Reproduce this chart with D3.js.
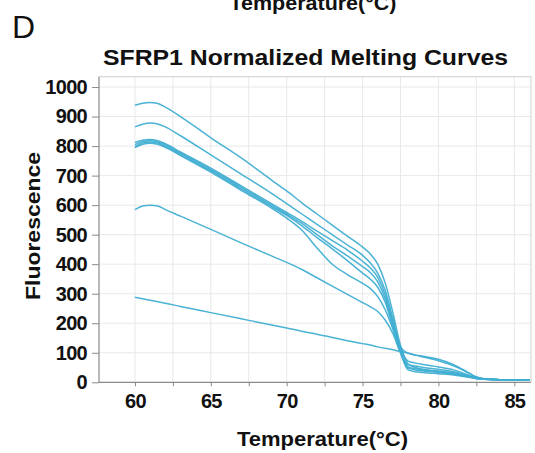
<!DOCTYPE html>
<html><head><meta charset="utf-8">
<script src="https://cdn.jsdelivr.net/npm/d3@7"></script>
<style>body{margin:0;background:#fff}svg{display:block}text{font-family:"Liberation Sans",Arial,sans-serif}</style>
</head><body>
<script>
const temps = [60,60.5,61,61.5,62,63,65,67,69,70,71,72,73,74,75,75.5,76,76.5,77,77.5,78,78.5,79,80,81,82,82.5,83,84,85,86];
const curveA = [938,945,948,944,932,900,828,760,685,648,608,570,532,495,458,435,400,335,235,125,62,50,44,36,28,19,14,11,9,8,8];
const curveB = [865,874,878,875,865,835,770,705,640,605,570,535,500,465,430,405,370,310,215,120,98,92,88,78,60,32,18,12,9,8,8];
const curveE1 = [812,820,822,818,808,780,725,665,605,575,545,512,480,448,410,388,355,295,205,115,72,65,60,52,42,24,15,11,9,8,8];
const curveE2 = [805,815,818,814,804,776,720,660,600,570,538,500,462,428,392,372,340,282,195,105,52,46,42,38,32,21,14,10,9,8,8];
const curveE3 = [798,810,814,810,800,772,716,655,595,565,530,490,452,412,370,350,322,270,185,100,42,36,33,29,25,17,12,10,9,8,8];
const curveE4 = [795,806,810,806,796,768,712,650,590,556,515,455,400,365,335,318,290,245,180,105,48,42,38,33,28,18,13,10,9,8,8];
const curveC = [585,597,600,597,585,563,518,472,428,406,382,354,326,298,270,256,240,210,165,100,60,55,50,44,36,22,14,10,9,8,8];
const curveD = [288,283,278,273,268,257,236,215,194,184,173,163,152,141,131,126,120,115,110,104,99,92,86,73,56,31,18,12,9,8,8];
const seriesList = [curveA, curveB, curveE1, curveE2, curveE3, curveE4, curveC, curveD];
const xTicks = [60,65,70,75,80,85];
const xGrid = [60,62.5,65,67.5,70,72.5,75,77.5,80,82.5,85];
const yTicks = [0,100,200,300,400,500,600,700,800,900,1000];

const W = 535, H = 453;
const L = 99, R = 531, T = 76.7, B = 382.3;
const svg = d3.select("body").append("svg").attr("width", W).attr("height", H);
const x = d3.scaleLinear().domain([57.63, 86.1]).range([L, R]);
const y = d3.scaleLinear().domain([0, 1035]).range([B, T]);

// grid
svg.append("g").selectAll("line").data(xGrid).join("line")
  .attr("x1", d => x(d)).attr("x2", d => x(d)).attr("y1", T).attr("y2", B)
  .attr("stroke", "#e9e9e9").attr("stroke-width", 1);
svg.append("g").selectAll("line").data(yTicks.slice(1)).join("line")
  .attr("x1", L).attr("x2", R).attr("y1", d => y(d)).attr("y2", d => y(d))
  .attr("stroke", "#e9e9e9").attr("stroke-width", 1);
// frame top/right
svg.append("path").attr("d", `M${L},${T}H${R}V${B}`).attr("fill", "none").attr("stroke", "#d8d8d8").attr("stroke-width", 1.2);

// axes
const yAxis = d3.axisLeft(y).tickValues(yTicks).tickSize(7).tickPadding(5).tickFormat(d3.format("d"));
const gy = svg.append("g").attr("transform", `translate(${L},0)`).call(yAxis);
const xAxis = d3.axisBottom(x).tickValues(xGrid).tickSize(4).tickPadding(8).tickFormat(d => xTicks.includes(d) ? d : "");
const gx = svg.append("g").attr("transform", `translate(0,${B})`).call(xAxis);
[gx, gy].forEach(g => {
  g.select(".domain").attr("stroke", "#8a8a8a").attr("stroke-width", 1.2);
  g.selectAll(".tick line").attr("stroke", "#8a8a8a").attr("stroke-width", 1);
  g.selectAll("text").attr("fill", "#111").attr("font-size", 20).attr("font-weight", "bold")
    .attr("font-family", '"Liberation Sans",Arial,sans-serif').attr("letter-spacing", -0.7);
});
gy.select(".domain").attr("d", `M-0,${T}V${B}`);
gx.select(".domain").attr("d", `M${L},0H${R}`);

// curves
const line = d3.line().x((d, i) => x(temps[i])).y(d => y(d)).curve(d3.curveMonotoneX);
svg.append("g").selectAll("path").data(seriesList).join("path")
  .attr("d", line).attr("fill", "none").attr("stroke", "#40aed2").attr("stroke-width", 1.5)
  .attr("stroke-linejoin", "round").attr("opacity", 0.95);

// texts
svg.append("text").attr("x", 313).attr("y", 10).attr("text-anchor", "middle")
  .attr("font-size", 21).attr("font-weight", "bold").attr("fill", "#111")
  .attr("textLength", 167).attr("lengthAdjust", "spacingAndGlyphs").text("Temperature(°C)");
svg.append("text").attr("x", 12).attr("y", 38).attr("font-size", 32).attr("fill", "#111").text("D");
svg.append("text").attr("x", 305.5).attr("y", 65).attr("text-anchor", "middle")
  .attr("font-size", 22).attr("font-weight", "bold").attr("fill", "#111")
  .attr("textLength", 405).attr("lengthAdjust", "spacingAndGlyphs").text("SFRP1 Normalized Melting Curves");
svg.append("text").attr("x", 322.5).attr("y", 446).attr("text-anchor", "middle")
  .attr("font-size", 21).attr("font-weight", "bold").attr("fill", "#111")
  .attr("textLength", 171).attr("lengthAdjust", "spacingAndGlyphs").text("Temperature(°C)");
svg.append("text").attr("transform", "translate(40,226) rotate(-90)").attr("text-anchor", "middle")
  .attr("font-size", 21).attr("font-weight", "bold").attr("fill", "#111")
  .attr("textLength", 148).attr("lengthAdjust", "spacingAndGlyphs").text("Fluorescence");
</script>
</body></html>
